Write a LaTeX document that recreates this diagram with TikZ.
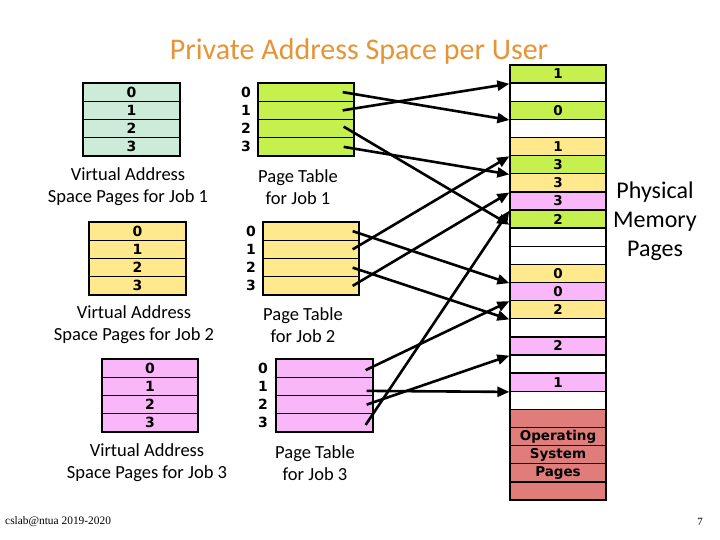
\documentclass[tikz,border=0pt]{standalone}
\usepackage{fontspec}
\setmainfont{Carlito}
\newfontfamily\digitfont{DejaVu Sans}
\newfontfamily\footfont{Liberation Serif}
\usetikzlibrary{arrows.meta}
\definecolor{mint}{RGB}{204,235,216}
\definecolor{lime}{RGB}{198,240,78}
\definecolor{pyellow}{RGB}{255,233,140}
\definecolor{ppink}{RGB}{249,182,248}
\definecolor{osred}{RGB}{224,124,122}
\definecolor{titleorange}{RGB}{230,148,54}
\begin{document}
\begin{tikzpicture}[x=1pt,y=-1pt,
  cellbox/.style={draw=black,line width=1.3pt,minimum height=18.25pt,inner sep=0pt,
    font=\digitfont\bfseries\fontsize{14}{14}\selectfont},
  memrow/.style={draw=black,line width=1.3pt,minimum height=18.125pt,minimum width=96pt,inner sep=0pt,
    font=\digitfont\bfseries\fontsize{13.5}{13.5}\selectfont},
  sidenum/.style={inner sep=0pt,font=\digitfont\bfseries\fontsize{14}{14}\selectfont},
  lbl/.style={align=center,inner sep=0pt,font=\fontsize{18.5}{22}\selectfont},
  arr/.style={line width=2.6pt,-{Triangle[length=12pt,width=10pt]}}]
\useasboundingbox[fill=white] (0,0) rectangle (720,540);
% title
\node[text=titleorange,font=\fontsize{30}{36}\selectfont,inner sep=0pt] (title) at (359,52) {Private Address Space per User};
% job 1
\foreach \i in {0,...,3}{
  \node[cellbox,minimum width=97pt,fill=mint] (v1-\i) at (131.5,{83+18.25*(\i+0.5)}) {\i};
  \node[cellbox,minimum width=96pt,fill=lime] (p1-\i) at (306,{83+18.25*(\i+0.5)}) {};
  \node[sidenum] (n1-\i) at (246,{83+18.25*(\i+0.5)}) {\i};
}
\node[lbl] (l1v) at (128,187) {Virtual Address\\Space Pages for Job 1};
\node[lbl] (l1p) at (298,187) {Page Table\\for Job 1};
% job 2
\foreach \i in {0,...,3}{
  \node[cellbox,minimum width=97pt,fill=pyellow] (v2-\i) at (137.5,{222+18.25*(\i+0.5)}) {\i};
  \node[cellbox,minimum width=96pt,fill=pyellow] (p2-\i) at (311,{222+18.25*(\i+0.5)}) {};
  \node[sidenum] (n2-\i) at (251,{222+18.25*(\i+0.5)}) {\i};
}
\node[lbl] (l2v) at (134,325) {Virtual Address\\Space Pages for Job 2};
\node[lbl] (l2p) at (303,325) {Page Table\\for Job 2};
% job 3
\foreach \i in {0,...,3}{
  \node[cellbox,minimum width=96pt,fill=ppink] (v3-\i) at (150,{359+18.25*(\i+0.5)}) {\i};
  \node[cellbox,minimum width=97pt,fill=ppink] (p3-\i) at (324.5,{359+18.25*(\i+0.5)}) {};
  \node[sidenum] (n3-\i) at (263,{359+18.25*(\i+0.5)}) {\i};
}
\node[lbl] (l3v) at (147,463) {Virtual Address\\Space Pages for Job 3};
\node[lbl] (l3p) at (315,463) {Page Table\\for Job 3};
% physical memory
\foreach \col/\lab [count=\n from 0] in {lime/1,white/{},lime/0,white/{},pyellow/1,lime/3,pyellow/3,ppink/3,lime/2,white/{},white/{},pyellow/0,ppink/0,pyellow/2,white/{},ppink/2,white/{},ppink/1,white/{},osred/{},osred/Operating,osred/System,osred/Pages,osred/{}}{
  \node[memrow,fill=\col] (m\n) at (558,{65+18.125*(\n+0.5)}) {\lab};
}
\node[align=center,inner sep=0pt,font=\fontsize{24}{29}\selectfont] (pmp) at (655,221) {Physical\\Memory\\Pages};
% arrows job 1
\draw[arr] ([xshift=-12pt]p1-0.east) -- (m2.south west);
\draw[arr] ([xshift=-12pt]p1-1.east) -- (m0.south west);
\draw[arr] ([xshift=-11pt,yshift=2pt]p1-2.east) -- ([yshift=4pt]m8.south west);
\draw[arr] ([xshift=-11pt]p1-3.east) -- (m5.south west);
% arrows job 2
\draw[arr] ([xshift=-7pt]p2-0.east) -- (m11.south west);
\draw[arr] ([xshift=-7pt]p2-1.east) -- (m4.south west);
\draw[arr] ([xshift=-7pt]p2-2.east) -- (m13.south west);
\draw[arr] ([xshift=-7pt]p2-3.east) -- (m6.south west);
% arrows job 3
\draw[arr] ([xshift=-8pt,yshift=-2pt]p3-0.east) -- (m12.south west);
\draw[arr] ([xshift=-7pt,yshift=-4.5pt]p3-1.east) -- (m17.south west);
\draw[arr] ([xshift=-7pt]p3-2.east) -- (m15.south west);
\draw[arr] ([xshift=-8pt,yshift=-2pt]p3-3.east) -- (m7.south west);
% footer
\node[anchor=west,inner sep=0pt,font=\footfont\fontsize{11.4}{13}\selectfont] (foot) at (5,522) {cslab@ntua 2019-2020};
\node[inner sep=0pt,font=\footfont\fontsize{11}{13}\selectfont] (pg) at (700,522) {7};
\end{tikzpicture}
\end{document}
